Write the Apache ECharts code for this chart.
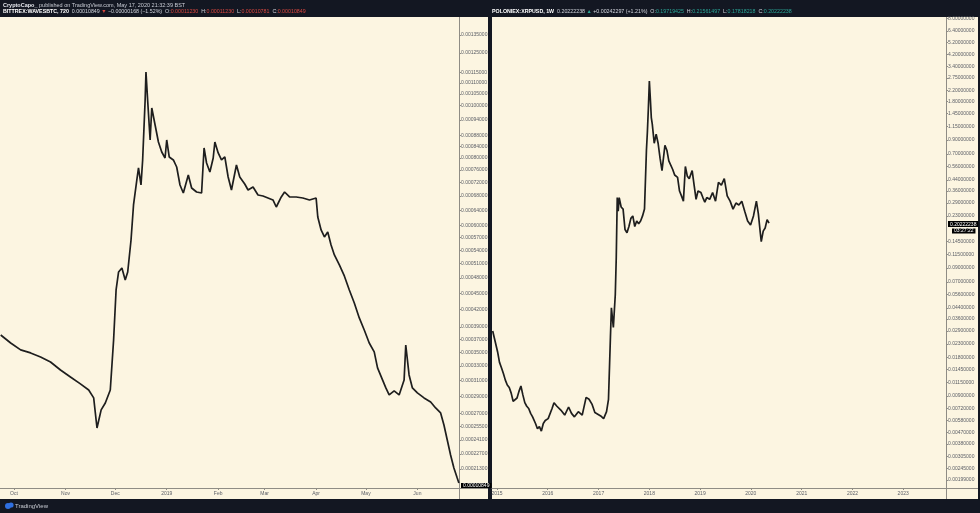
<!DOCTYPE html>
<html><head><meta charset="utf-8">
<script src="https://cdn.jsdelivr.net/npm/echarts@6/dist/echarts.min.js"></script>
<style>html,body{margin:0;padding:0;background:#131722;}#c{width:980px;height:513px;}</style>
</head><body><div id="c"></div>
<script>
// ---- Left panel: BITTREX:WAVESBTC, 720 ----
const leftDates = ['2018-09-23','2018-09-29','2018-10-05','2018-10-11','2018-10-17','2018-10-23','2018-10-29','2018-11-04','2018-11-10','2018-11-15','2018-11-18','2018-11-20','2018-11-22 12:00','2018-11-25','2018-11-28','2018-11-30','2018-12-01 12:00','2018-12-03','2018-12-05','2018-12-07','2018-12-08 12:00','2018-12-10 12:00','2018-12-12','2018-12-14','2018-12-15','2018-12-16 12:00','2018-12-17 12:00','2018-12-19','2018-12-19 12:00','2018-12-20 12:00','2018-12-22','2018-12-23','2018-12-25','2018-12-27','2018-12-29','2018-12-31','2019-01-01','2019-01-02 12:00','2019-01-05','2019-01-07','2019-01-09','2019-01-11','2019-01-14','2019-01-16','2019-01-19','2019-01-22','2019-01-23 12:00','2019-01-25','2019-01-27','2019-01-29','2019-01-30','2019-02-01','2019-02-03','2019-02-05','2019-02-07','2019-02-09','2019-02-12','2019-02-14','2019-02-17','2019-02-19','2019-02-22','2019-02-25','2019-02-28','2019-03-03','2019-03-06','2019-03-08','2019-03-11','2019-03-13','2019-03-16','2019-03-20','2019-03-24','2019-03-28','2019-04-01','2019-04-02','2019-04-04','2019-04-06','2019-04-08','2019-04-10','2019-04-12','2019-04-15','2019-04-18','2019-04-21','2019-04-24','2019-04-27','2019-04-30','2019-05-03','2019-05-06','2019-05-08','2019-05-11','2019-05-13','2019-05-15','2019-05-18','2019-05-21','2019-05-24','2019-05-25','2019-05-27','2019-05-29','2019-06-01','2019-06-05','2019-06-09','2019-06-12','2019-06-15','2019-06-17','2019-06-19','2019-06-21','2019-06-23','2019-06-25','2019-06-26'];
const leftValues = [0.0003766,0.0003640,0.0003534,0.0003489,0.0003430,0.0003357,0.0003245,0.0003150,0.0003058,0.0002980,0.0002881,0.0002535,0.0002738,0.0002820,0.0002980,0.0003686,0.0004561,0.0004924,0.0005009,0.0004759,0.0004924,0.0005642,0.0006548,0.0007283,0.0007665,0.0007130,0.0007930,0.0010236,0.0011532,0.0010236,0.0008634,0.0009894,0.0009203,0.0008561,0.0008205,0.0007998,0.0008634,0.0008032,0.0007930,0.0007697,0.0007130,0.0006891,0.0007439,0.0007039,0.0006920,0.0006891,0.0008346,0.0007829,0.0007535,0.0007998,0.0008561,0.0008170,0.0007930,0.0008032,0.0007376,0.0006979,0.0007763,0.0007376,0.0007160,0.0006979,0.0007069,0.0006833,0.0006803,0.0006746,0.0006689,0.0006492,0.0006775,0.0006920,0.0006775,0.0006775,0.0006746,0.0006689,0.0006746,0.0006222,0.0005888,0.0005715,0.0005838,0.0005524,0.0005294,0.0005073,0.0004841,0.0004561,0.0004316,0.0004049,0.0003847,0.0003640,0.0003504,0.0003273,0.0003110,0.0003006,0.0002918,0.0002968,0.0002918,0.0003110,0.0003609,0.0003177,0.0003006,0.0002943,0.0002881,0.0002832,0.0002761,0.0002703,0.0002568,0.0002409,0.0002260,0.0002138,0.0002049,0.0002006];
const leftYTicks = [0.00135,0.00125,0.00115,0.0011,0.00105,0.001,0.00094,0.00088,0.00084,0.0008,0.00076,0.00072,0.00068,0.00064,0.0006,0.00057,0.00054,0.00051,0.00048,0.00045,0.00042,0.00039,0.00037,0.00035,0.00033,0.00031,0.00029,0.00027,0.000255,0.000241,0.000227,0.000213];
const leftXTicks = ['2018-10-01','2018-11-01','2018-12-01','2019-01-01','2019-02-01','2019-03-01','2019-04-01','2019-05-01','2019-06-01'];
const leftXLabels = ['Oct','Nov','Dec','2019','Feb','Mar','Apr','May','Jun'];

// ---- Right panel: POLONIEX:XRPUSD, 1W ----
const rightDates = ['2014-12-01','2014-12-15','2015-01-05','2015-01-19','2015-02-02','2015-02-16','2015-03-02','2015-03-16','2015-03-30','2015-04-13','2015-04-27','2015-05-11','2015-05-25','2015-06-08','2015-06-22','2015-07-06','2015-07-20','2015-08-03','2015-08-17','2015-08-31','2015-09-14','2015-10-05','2015-10-19','2015-11-02','2015-11-16','2015-11-30','2015-12-14','2016-01-04','2016-01-18','2016-02-01','2016-02-15','2016-03-07','2016-04-04','2016-05-02','2016-05-30','2016-06-20','2016-07-11','2016-08-08','2016-09-05','2016-10-03','2016-10-24','2016-11-14','2016-12-05','2016-12-26','2017-01-16','2017-02-06','2017-02-27','2017-03-13','2017-03-27','2017-04-03','2017-04-17','2017-05-01','2017-05-08','2017-05-15','2017-05-22','2017-05-29','2017-06-12','2017-06-26','2017-07-10','2017-07-24','2017-08-07','2017-08-21','2017-09-04','2017-09-18','2017-10-02','2017-10-16','2017-10-30','2017-11-13','2017-11-27','2017-12-11','2017-12-18','2017-12-25','2018-01-01','2018-01-08','2018-01-15','2018-01-22','2018-02-05','2018-02-19','2018-03-05','2018-03-19','2018-04-02','2018-04-23','2018-05-07','2018-05-21','2018-06-04','2018-06-18','2018-07-02','2018-07-23','2018-08-06','2018-08-20','2018-09-03','2018-09-17','2018-10-01','2018-10-15','2018-11-05','2018-11-19','2018-12-03','2018-12-17','2019-01-07','2019-01-21','2019-02-04','2019-02-18','2019-03-11','2019-04-01','2019-04-22','2019-05-13','2019-06-03','2019-06-24','2019-07-15','2019-08-05','2019-08-26','2019-09-16','2019-10-07','2019-10-28','2019-11-18','2019-12-09','2019-12-30','2020-01-20','2020-02-10','2020-02-24','2020-03-09','2020-03-16','2020-03-30','2020-04-13','2020-04-27','2020-05-11'];
const rightValues = [0.0290,0.0250,0.0200,0.0165,0.0150,0.0135,0.0120,0.0110,0.0105,0.0095,0.0082,0.0080,0.0087,0.0098,0.0108,0.0092,0.0080,0.0075,0.0072,0.0066,0.0062,0.0055,0.0050,0.0052,0.0048,0.0055,0.0058,0.0060,0.0058,0.0072,0.0080,0.0075,0.0070,0.0064,0.0074,0.0066,0.0062,0.0068,0.0064,0.0088,0.0085,0.0078,0.0067,0.0065,0.0063,0.0060,0.0068,0.0085,0.0260,0.0440,0.0310,0.0560,0.1100,0.3200,0.2500,0.3200,0.2700,0.2600,0.1800,0.1700,0.1900,0.2200,0.2300,0.1900,0.2100,0.2000,0.2100,0.2300,0.2600,0.7500,1.0500,1.6000,2.6000,1.9000,1.3500,1.2000,0.8500,1.0000,0.8500,0.6500,0.5200,0.8200,0.7500,0.6200,0.6400,0.5300,0.4800,0.4600,0.3600,0.3300,0.3000,0.5600,0.4700,0.4500,0.5200,0.4000,0.3100,0.3600,0.3500,0.3200,0.2950,0.3200,0.3100,0.3500,0.3000,0.4200,0.4000,0.4500,0.3300,0.3000,0.2600,0.2900,0.2800,0.3000,0.2500,0.2100,0.1950,0.2300,0.3000,0.2400,0.1700,0.1450,0.1750,0.1850,0.2150,0.20222238];
const rightYTicks = [8,6.4,5.2,4.2,3.4,2.75,2.2,1.8,1.45,1.15,0.9,0.7,0.56,0.44,0.36,0.29,0.23,0.145,0.115,0.09,0.07,0.056,0.044,0.036,0.029,0.023,0.018,0.0145,0.0115,0.009,0.0072,0.0058,0.0047,0.0038,0.00305,0.00245,0.00199];
const rightXTicks = ['2015-01-01','2016-01-01','2017-01-01','2018-01-01','2019-01-01','2020-01-01','2021-01-01','2022-01-01','2023-01-01'];
const rightXLabels = ['2015','2016','2017','2018','2019','2020','2021','2022','2023'];

function p(s){const parts=s.split(' ');const d=parts[0].split('-').map(Number);let h=0,mi=0;if(parts[1]){const t=parts[1].split(':').map(Number);h=t[0];mi=t[1];}return Date.UTC(d[0],d[1]-1,d[2],h,mi);}
const FONT = '"Liberation Sans", Arial, sans-serif';
const CREAM = '#fcf5e1', DARK = '#131722', AX = '#8f8c85', LBL = '#5b5e66';

const lxT = leftXTicks.map(p), rxT = rightXTicks.map(p);
function xFmt(times, labels){return function(v){let bi=0,bd=Infinity;times.forEach((t,i)=>{const d=Math.abs(t-v);if(d<bd){bd=d;bi=i;}});return labels[bi];};}

function xAxisCfg(grid, min, max, times, labels){
  return {type:'value', gridIndex:grid, min:min, max:max, scale:true,
    axisLine:{show:true, lineStyle:{color:AX, width:1}},
    axisTick:{show:true, customValues:times, length:2, lineStyle:{color:AX}},
    axisLabel:{show:true, customValues:times, formatter:xFmt(times, labels), fontSize:5, color:LBL, fontFamily:FONT, margin:3, hideOverlap:false},
    splitLine:{show:false}};
}
function yAxisCfg(grid, min, max, ticks){
  return {type:'log', gridIndex:grid, position:'right', min:min, max:max,
    axisLine:{show:true, lineStyle:{color:AX, width:1}},
    axisTick:{show:true, customValues:ticks, length:2, lineStyle:{color:AX}},
    axisLabel:{show:true, customValues:ticks, formatter:function(v){return Number(v).toFixed(8);}, fontSize:5, color:LBL, fontFamily:FONT, margin:2, hideOverlap:false},
    splitLine:{show:false}};
}

const lastRight = rightValues[rightValues.length-1];
const chart = echarts.init(document.getElementById('c'), null, {renderer:'canvas'});
const option = {
  animation:false,
  backgroundColor:DARK,
  grid:[{left:0, top:18, width:459, height:470},{left:492, top:18, width:454, height:470}],
  xAxis:[xAxisCfg(0, p('2018-09-22 13:35'), p('2019-06-26 01:40'), lxT, leftXLabels),
         xAxisCfg(1, p('2014-11-26'), p('2023-11-05'), rxT, rightXLabels)],
  yAxis:[yAxisCfg(0, 0.00019637, 0.001451, leftYTicks),
         yAxisCfg(1, 0.001724, 8.0858, rightYTicks)],
  series:[
    {type:'line', xAxisIndex:0, yAxisIndex:0, showSymbol:false, silent:true,
     lineStyle:{color:'#1e1e1e', width:1.7}, data:leftDates.map((d,i)=>[p(d), leftValues[i]])},
    {type:'line', xAxisIndex:1, yAxisIndex:1, showSymbol:false, silent:true,
     lineStyle:{color:'#1e1e1e', width:1.7}, data:rightDates.map((d,i)=>[p(d), rightValues[i]])}
  ],
  graphic:[
    {type:'rect', z:-100, shape:{x:0,y:17,width:488,height:482}, style:{fill:CREAM}},
    {type:'rect', z:-100, shape:{x:492,y:17,width:486,height:482}, style:{fill:CREAM}},
    {type:'line', z:-50, shape:{x1:459.5,y1:17,x2:459.5,y2:499}, style:{stroke:AX, lineWidth:1}},
    {type:'line', z:-50, shape:{x1:946.5,y1:17,x2:946.5,y2:499}, style:{stroke:AX, lineWidth:1}},
    {type:'line', z:-50, shape:{x1:0,y1:488.5,x2:488,y2:488.5}, style:{stroke:AX, lineWidth:1}},
    {type:'line', z:-50, shape:{x1:492,y1:488.5,x2:978,y2:488.5}, style:{stroke:AX, lineWidth:1}},
    {type:'text', left:3, top:2, style:{text:'{b|CryptoCapo_} published on TradingView.com, May 17, 2020 21:32:39 BST', fill:'#c9ccd4', fontSize:5.5, fontFamily:FONT,
      rich:{b:{fontWeight:'bold', fill:'#e6e8ee', fontSize:5.5, fontFamily:FONT}}}},
    {type:'text', left:3, top:9, style:{text:'{b|BITTREX:WAVESBTC, 720}  0.00010849 {r|▼} −0.00000168 (−1.52%)  O:{r|0.00011230}  H:{r|0.00011230}  L:{r|0.00010781}  C:{r|0.00010849}', fill:'#d1d4dc', fontSize:5.3, fontFamily:FONT,
      rich:{b:{fontWeight:'bold', fill:'#ffffff', fontSize:5.3, fontFamily:FONT}, r:{fill:'#d9473f', fontSize:5.3, fontFamily:FONT}}}},
    {type:'text', left:492, top:9, style:{text:'{b|POLONIEX:XRPUSD, 1W}  0.20222238 {g|▲} +0.00242297 (+1.21%)  O:{g|0.19719425}  H:{g|0.21561497}  L:{g|0.17818218}  C:{g|0.20222238}', fill:'#d1d4dc', fontSize:5.3, fontFamily:FONT,
      rich:{b:{fontWeight:'bold', fill:'#ffffff', fontSize:5.3, fontFamily:FONT}, g:{fill:'#2aa596', fontSize:5.3, fontFamily:FONT}}}},
    {type:'text', left:461, top:483, z:10, style:{text:'0.00010849', fill:'#fff', backgroundColor:'#000', padding:[0,2,0,2], fontSize:5, fontFamily:FONT}},
    {type:'text', left:948, top:221, z:10, style:{text:lastRight.toFixed(8), fill:'#fff', backgroundColor:'#000', padding:[1,2,0,2], fontSize:5, fontFamily:FONT}},
    {type:'text', left:952, top:228.5, z:10, style:{text:'03:27:22', fill:'#fff', backgroundColor:'#000', padding:[0,2,0,2], fontSize:5, fontFamily:FONT}},
    {type:'circle', shape:{cx:8,cy:506,r:3}, style:{fill:'#2f6fe0'}},
    {type:'circle', shape:{cx:11,cy:505,r:2.6}, style:{fill:'#2f6fe0'}},
    {type:'text', left:15, top:503, style:{text:'TradingView', fill:'#c9ccd4', fontSize:6, fontFamily:FONT}}
  ]
};
chart.setOption(option);
</script>
</body></html>
